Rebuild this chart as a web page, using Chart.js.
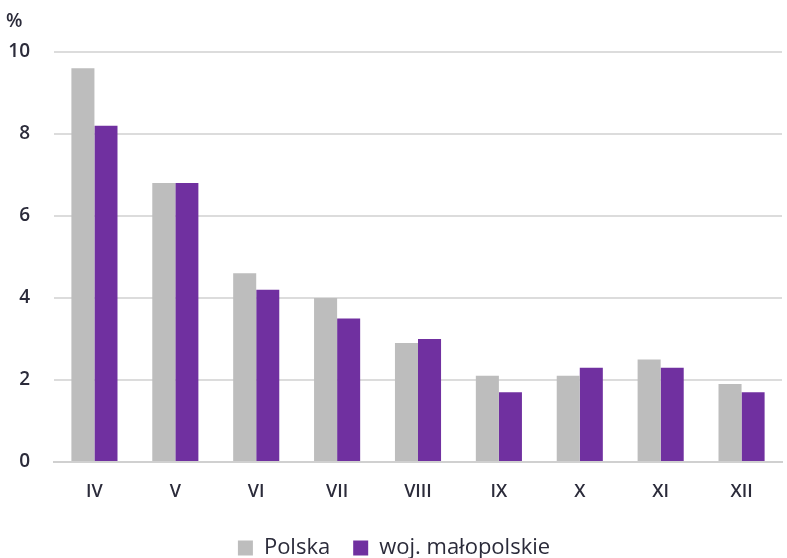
<!DOCTYPE html>
<html lang="pl">
<head>
    <meta charset="UTF-8">
    <title>Polska vs woj. małopolskie</title>
    <script src="https://cdn.jsdelivr.net/npm/chart.js"></script>
    <style>
        html, body { margin: 0; padding: 0; background: #fff; }
        .wrap { width: 787px; height: 558px; }
    </style>
</head>
<body>
    <div class="wrap"><canvas id="myChart"></canvas></div>

    <script>
        // months (roman numerals)
        var months = ['IV', 'V', 'VI', 'VII', 'VIII', 'IX', 'X', 'XI', 'XII'];
        var polska = [9.6, 6.8, 4.6, 4.0, 2.9, 2.1, 2.1, 2.5, 1.9];
        var malopolskie = [8.2, 6.8, 4.2, 3.5, 3.0, 1.7, 2.3, 2.3, 1.7];
        var yTicks = [0, 2, 4, 6, 8, 10];

        var textColor = '#2b2b3a';
        var font = "'Open Sans', 'Noto Sans', sans-serif";

        var ctx = document.getElementById('myChart').getContext('2d');
        new Chart(ctx, {
            type: 'bar',
            data: {
                labels: months,
                datasets: [
                    { label: 'Polska', data: polska, backgroundColor: '#bdbdbd' },
                    { label: 'woj. małopolskie', data: malopolskie, backgroundColor: '#7030a0' }
                ]
            },
            options: {
                responsive: true,
                maintainAspectRatio: false,
                animation: false,
                layout: { padding: { left: 6, right: 5, top: 0, bottom: -11 } },
                datasets: {
                    bar: { categoryPercentage: 0.57, barPercentage: 1.0 }
                },
                plugins: {
                    title: {
                        display: true,
                        text: '%',
                        align: 'start',
                        color: textColor,
                        font: { family: font, size: 19, weight: '600' },
                        padding: { top: 10, bottom: 19 }
                    },
                    legend: {
                        position: 'bottom',
                        labels: {
                            color: textColor,
                            font: { family: font, size: 22, weight: '500' },
                            boxWidth: 15,
                            boxHeight: 15,
                            padding: 23
                        }
                    },
                    tooltip: { enabled: false }
                },
                scales: {
                    x: {
                        grid: { display: false },
                        border: { color: '#d0d0d0', width: 2 },
                        afterFit: function (axis) {
                            axis.height = 52;
                        },
                        ticks: {
                            color: textColor,
                            font: { family: font, size: 18, weight: '600' },
                            padding: 11
                        }
                    },
                    y: {
                        min: 0,
                        max: 10,
                        afterBuildTicks: function (axis) {
                            axis.ticks = yTicks.map(function (v) { return { value: v }; });
                        },
                        afterFit: function (axis) {
                            axis.width = 48;
                        },
                        grid: { color: '#dcdcdc', lineWidth: 2, drawTicks: false },
                        border: { display: false },
                        ticks: {
                            color: textColor,
                            font: { family: font, size: 19, weight: '600' },
                            padding: 24
                        }
                    }
                }
            }
        });
    </script>
</body>
</html>
